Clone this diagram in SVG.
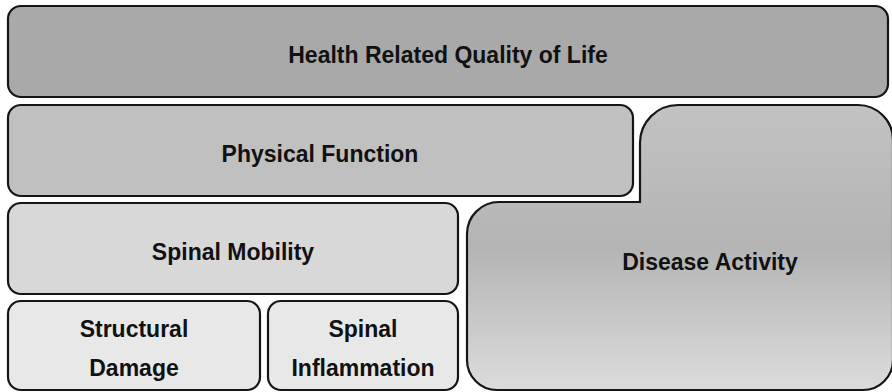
<svg xmlns="http://www.w3.org/2000/svg" width="892" height="392" viewBox="0 0 892 392">
  <defs>
    <linearGradient id="gDisease" x1="0" y1="0" x2="0" y2="1">
      <stop offset="0" stop-color="#c2c2c2"/>
      <stop offset="0.5" stop-color="#b4b4b4"/>
      <stop offset="1" stop-color="#dcdcdc"/>
    </linearGradient>
  </defs>
  <style>
    .box { stroke: #151515; stroke-width: 2.2; }
    .lbl { font-family: "Liberation Sans", Arial, sans-serif; font-weight: bold; font-size: 23px; fill: #111; text-anchor: middle; }
  </style>
  <rect width="892" height="392" fill="#ffffff"/>
  <g id="hrqol">
    <rect class="box" x="8" y="6" width="880" height="91" rx="13" ry="13" fill="#a9a9a9"/>
    <text class="lbl" x="448" y="63">Health Related Quality of Life</text>
  </g>
  <g id="physical-function">
    <rect class="box" x="8" y="105" width="625" height="91" rx="13" ry="13" fill="#c0c0c0"/>
    <text class="lbl" x="320" y="162">Physical Function</text>
  </g>
  <g id="spinal-mobility">
    <rect class="box" x="8" y="203" width="450" height="91" rx="13" ry="13" fill="#d8d8d8"/>
    <text class="lbl" x="233" y="260">Spinal Mobility</text>
  </g>
  <g id="structural-damage">
    <rect class="box" x="8" y="301" width="252" height="89" rx="13" ry="13" fill="#e8e8e8"/>
    <text class="lbl" x="134" y="337">Structural</text>
    <text class="lbl" x="134" y="376">Damage</text>
  </g>
  <g id="spinal-inflammation">
    <rect class="box" x="268" y="301" width="190" height="89" rx="13" ry="13" fill="#e8e8e8"/>
    <text class="lbl" x="363" y="337">Spinal</text>
    <text class="lbl" x="363" y="376">Inflammation</text>
  </g>
  <g id="disease-activity">
    <path class="box" fill="url(#gDisease)" d="M 640,202 L 640,143 A 38 38 0 0 1 678,105 L 858,105 A 35 35 0 0 1 893,140 L 893,360 A 30 30 0 0 1 863,390 L 497,390 A 30 30 0 0 1 467,360 L 467,234 A 32 32 0 0 1 499,202 Z"/>
    <text class="lbl" x="710" y="270">Disease Activity</text>
  </g>
  <g id="connectors"/>
</svg>
